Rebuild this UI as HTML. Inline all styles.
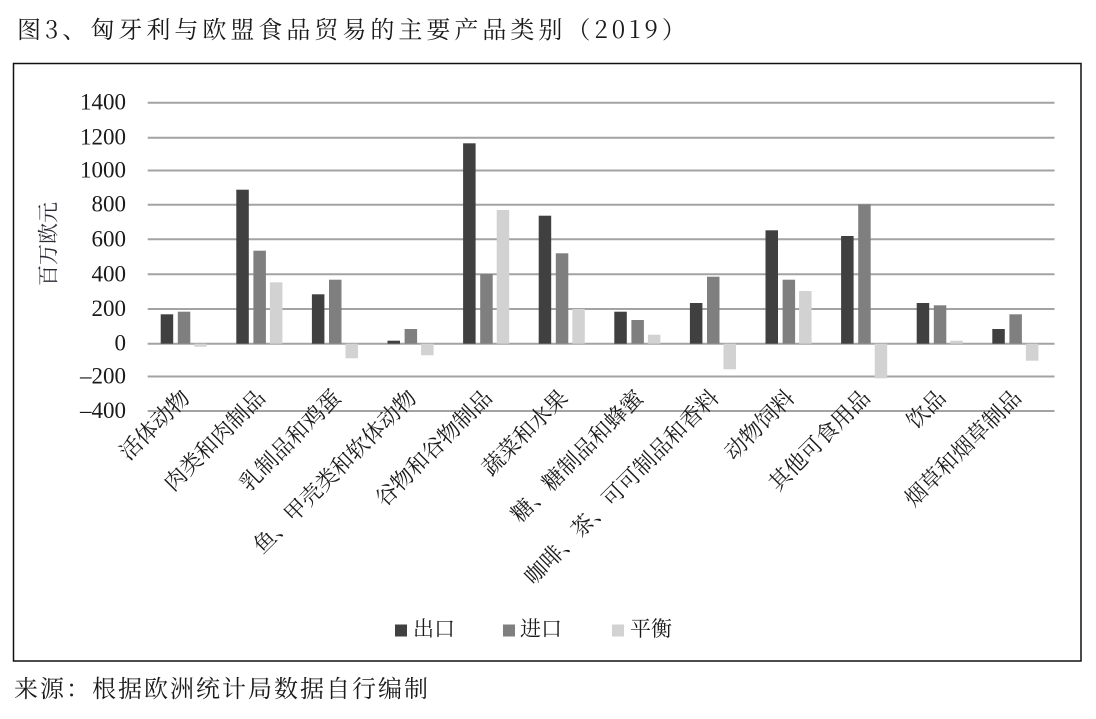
<!DOCTYPE html>
<html>
<head>
<meta charset="utf-8">
<style>
  html, body { margin: 0; padding: 0; background: #fff; }
  svg { display: block; }
</style>
</head>
<body>
<svg width="1096" height="719" viewBox="0 0 1096 719" xmlns="http://www.w3.org/2000/svg">
  <rect x="0" y="0" width="1096" height="719" fill="#ffffff"/>

  <!-- Title -->
  <text x="17" y="38" font-family="'Noto Serif CJK SC', 'Liberation Serif', serif" font-size="24" letter-spacing="4" fill="#1a1a1a">图3、匈牙利与欧盟食品贸易的主要产品类别（2019）</text>

  <!-- Frame -->
  <rect x="13.5" y="63.5" width="1067.5" height="597.5" fill="none" stroke="#111" stroke-width="1.5"/>

  <!-- Gridlines -->
  <g stroke="#a3a3a3" stroke-width="2">
    <line x1="147.7" y1="102.7" x2="1054.5" y2="102.7"/>
    <line x1="147.7" y1="137.7" x2="1054.5" y2="137.7"/>
    <line x1="147.7" y1="170.5" x2="1054.5" y2="170.5"/>
    <line x1="147.7" y1="204.7" x2="1054.5" y2="204.7"/>
    <line x1="147.7" y1="239.3" x2="1054.5" y2="239.3"/>
    <line x1="147.7" y1="274.3" x2="1054.5" y2="274.3"/>
    <line x1="147.7" y1="309" x2="1054.5" y2="309"/>
    <line x1="147.7" y1="343.7" x2="1054.5" y2="343.7"/>
    <line x1="147.7" y1="376.5" x2="1054.5" y2="376.5"/>
    <line x1="147.7" y1="411" x2="1054.5" y2="411"/>
  </g>

  <!-- Y tick labels -->
  <g font-family="'Liberation Serif', 'Times New Roman', 'DejaVu Serif', serif" font-size="23" fill="#1a1a1a" text-anchor="end">
    <text x="126" y="109.5">1400</text>
    <text x="126" y="144.5">1200</text>
    <text x="126" y="177.5">1000</text>
    <text x="126" y="211.5">800</text>
    <text x="126" y="246.3">600</text>
    <text x="126" y="281.3">400</text>
    <text x="126" y="316">200</text>
    <text x="126" y="350.7">0</text>
    <text x="126" y="383.5">–200</text>
    <text x="126" y="418">–400</text>
  </g>

  <!-- Y axis title -->
  <text x="47.5" y="244" font-family="'Noto Serif CJK SC', serif" font-size="21" fill="#2a2a35" text-anchor="middle" dominant-baseline="central" transform="rotate(-90 47.5 244)">百万欧元</text>

  <!-- Bars: export (dark) -->
  <g fill="#404040">
    <rect x="160.7" y="314.3" width="12.5" height="29.4"/>
    <rect x="236.3" y="189.7" width="12.5" height="154"/>
    <rect x="311.9" y="294.3" width="12.5" height="49.4"/>
    <rect x="387.5" y="340.7" width="12.5" height="3"/>
    <rect x="463.1" y="143.3" width="12.5" height="200.4"/>
    <rect x="538.7" y="215.7" width="12.5" height="128"/>
    <rect x="614.3" y="311.7" width="12.5" height="32"/>
    <rect x="689.9" y="303" width="12.5" height="40.7"/>
    <rect x="765.5" y="230.3" width="12.5" height="113.4"/>
    <rect x="841.1" y="236" width="12.5" height="107.7"/>
    <rect x="916.7" y="303" width="12.5" height="40.7"/>
    <rect x="992.3" y="329" width="12.5" height="14.7"/>
  </g>

  <!-- Bars: import (grey) -->
  <g fill="#7f7f7f">
    <rect x="177.8" y="311.7" width="12.5" height="32"/>
    <rect x="253.4" y="250.7" width="12.5" height="93"/>
    <rect x="329" y="279.7" width="12.5" height="64"/>
    <rect x="404.6" y="329" width="12.5" height="14.7"/>
    <rect x="480.2" y="274" width="12.5" height="69.7"/>
    <rect x="555.8" y="253.3" width="12.5" height="90.4"/>
    <rect x="631.4" y="320" width="12.5" height="23.7"/>
    <rect x="707" y="276.7" width="12.5" height="67"/>
    <rect x="782.6" y="279.7" width="12.5" height="64"/>
    <rect x="858.2" y="204.3" width="12.5" height="139.4"/>
    <rect x="933.8" y="305.3" width="12.5" height="38.4"/>
    <rect x="1009.4" y="314.3" width="12.5" height="29.4"/>
  </g>

  <!-- Bars: balance (light) -->
  <g fill="#d2d2d2">
    <rect x="194.3" y="343.7" width="12.5" height="3"/>
    <rect x="269.9" y="282.3" width="12.5" height="61.4"/>
    <rect x="345.5" y="343.7" width="12.5" height="14.6"/>
    <rect x="421.1" y="343.7" width="12.5" height="11.6"/>
    <rect x="496.7" y="210" width="12.5" height="133.7"/>
    <rect x="572.3" y="309" width="12.5" height="34.7"/>
    <rect x="647.9" y="334.7" width="12.5" height="9"/>
    <rect x="723.5" y="343.7" width="12.5" height="25.6"/>
    <rect x="799.1" y="291" width="12.5" height="52.7"/>
    <rect x="874.7" y="343.7" width="12.5" height="34.6"/>
    <rect x="950.3" y="340.7" width="12.5" height="3"/>
    <rect x="1025.9" y="343.7" width="12.5" height="17"/>
  </g>

  <!-- Category labels -->
  <g font-family="'Noto Serif CJK SC', serif" font-size="22" fill="#1a1a1a" text-anchor="end" dominant-baseline="central">
    <text x="185" y="393" transform="rotate(-45 185 393)">活体动物</text>
    <text x="260.6" y="393" transform="rotate(-45 260.6 393)">肉类和肉制品</text>
    <text x="336.2" y="393" transform="rotate(-45 336.2 393)">乳制品和鸡蛋</text>
    <text x="411.8" y="393" transform="rotate(-45 411.8 393)">鱼、甲壳类和软体动物</text>
    <text x="487.4" y="393" transform="rotate(-45 487.4 393)">谷物和谷物制品</text>
    <text x="563" y="393" transform="rotate(-45 563 393)">蔬菜和水果</text>
    <text x="638.6" y="393" transform="rotate(-45 638.6 393)">糖、糖制品和蜂蜜</text>
    <text x="714.2" y="393" transform="rotate(-45 714.2 393)">咖啡、茶、可可制品和香料</text>
    <text x="789.8" y="393" transform="rotate(-45 789.8 393)">动物饲料</text>
    <text x="865.4" y="393" transform="rotate(-45 865.4 393)">其他可食用品</text>
    <text x="941" y="393" transform="rotate(-45 941 393)">饮品</text>
    <text x="1016.6" y="393" transform="rotate(-45 1016.6 393)">烟草和烟草制品</text>
  </g>

  <!-- Legend -->
  <g font-family="'Noto Serif CJK SC', serif" font-size="21" fill="#1a1a1a">
    <rect x="395" y="624.5" width="12" height="12" fill="#404040"/>
    <text x="413" y="636">出口</text>
    <rect x="503" y="624.5" width="12" height="12" fill="#7f7f7f"/>
    <text x="520" y="636">进口</text>
    <rect x="612" y="624.5" width="12" height="12" fill="#d2d2d2"/>
    <text x="630" y="636">平衡</text>
  </g>

  <!-- Footer -->
  <text x="14" y="697" font-family="'Noto Serif CJK SC', serif" font-size="24" letter-spacing="2" fill="#1a1a1a">来源：根据欧洲统计局数据自行编制</text>
</svg>
</body>
</html>
